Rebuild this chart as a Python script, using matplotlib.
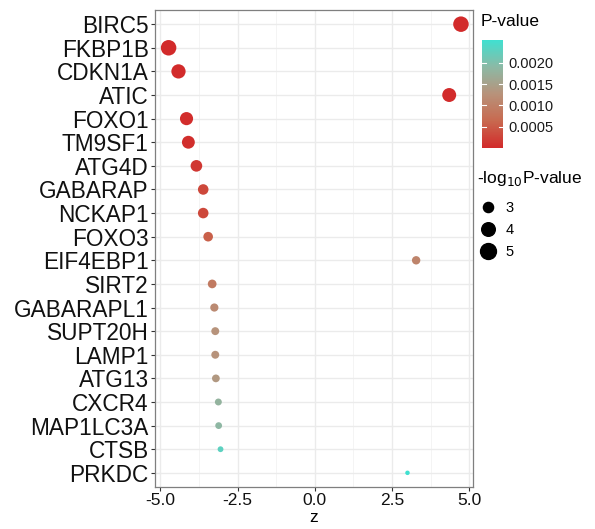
import numpy as np
import matplotlib.pyplot as plt
from matplotlib.colors import LinearSegmentedColormap, Normalize
from matplotlib.lines import Line2D

plt.rcParams['font.family'] = ['Liberation Sans', 'DejaVu Sans']

# data (top to bottom)
genes = ["BIRC5", "FKBP1B", "CDKN1A", "ATIC", "FOXO1", "TM9SF1", "ATG4D",
         "GABARAP", "NCKAP1", "FOXO3", "EIF4EBP1", "SIRT2", "GABARAPL1",
         "SUPT20H", "LAMP1", "ATG13", "CXCR4", "MAP1LC3A", "CTSB", "PRKDC"]
z = [4.73, -4.73, -4.41, 4.35, -4.15, -4.09, -3.83,
     -3.61, -3.61, -3.45, 3.28, -3.32, -3.25,
     -3.22, -3.22, -3.20, -3.12, -3.11, -3.05, 3.00]
pval = [2.2e-6, 2.2e-6, 1.0e-5, 1.4e-5, 3.3e-5, 4.3e-5, 1.3e-4,
        3.0e-4, 3.0e-4, 5.5e-4, 1.05e-3, 9.0e-4, 1.15e-3,
        1.28e-3, 1.28e-3, 1.37e-3, 1.8e-3, 1.87e-3, 2.3e-3, 2.54e-3]
size_breaks = [3, 4, 5]
cbar_ticks = [0.0005, 0.0010, 0.0015, 0.0020]

# red -> turquoise, roughly like ggplot's Lab gradient
cmap = LinearSegmentedColormap.from_list(
    "pv", [(0.0, "#D22A2A"), (0.25, "#C8694F"), (0.5, "#B8927A"),
           (0.75, "#8CB9A5"), (1.0, "#40E0D0")])
norm = Normalize(vmin=0.0, vmax=max(pval))

nlp = -np.log10(np.array(pval))
lo, hi = nlp.min(), nlp.max()


def diam_pt(v):
    # area-style size scale, diameter in points (dpi 100)
    d_px = 4.5 + 11.0 * np.sqrt(np.clip((v - lo) / (hi - lo), 0, 1))
    return d_px * 0.72


fig = plt.figure(figsize=(5.95, 5.29), dpi=100)
ax = fig.add_axes([155 / 595, 1 - 487 / 529, 318 / 595, 477 / 529])

ypos = np.arange(len(genes))[::-1]
order = np.argsort(-nlp)  # draw big ones first
ax.scatter(np.array(z)[order], ypos[order], s=diam_pt(nlp[order]) ** 2,
           c=np.array(pval)[order], cmap=cmap, norm=norm,
           linewidths=0, zorder=3)

ax.set_xlim(-5.17, 5.12)
ax.set_ylim(-0.6, len(genes) - 0.4)
ax.set_yticks(ypos)
ax.set_yticklabels(genes, fontsize=16.3, color="#111111")
ax.set_xticks([-5.0, -2.5, 0.0, 2.5, 5.0])
ax.set_xticklabels(["-5.0", "-2.5", "0.0", "2.5", "5.0"], fontsize=12.5,
                   color="#111111")
ax.set_xticks([-3.75, -1.25, 1.25, 3.75], minor=True)
ax.tick_params(axis="both", which="major", length=3, width=0.8,
               color="#333333", pad=1.5)
ax.tick_params(axis="x", which="minor", length=0)
ax.set_xlabel("z", fontsize=12.5, labelpad=1)
ax.grid(True, which="major", color="#ebebeb", linewidth=1.0, zorder=0)
ax.grid(True, which="minor", axis="x", color="#f2f2f2", linewidth=0.6,
        zorder=0)
ax.set_axisbelow(True)
for sp in ax.spines.values():
    sp.set_color("#7f7f7f")
    sp.set_linewidth(0.9)

# colour bar legend
cax = fig.add_axes([482 / 595, 1 - 148 / 529, 21 / 595, 108 / 529])
cb = fig.colorbar(plt.cm.ScalarMappable(norm=norm, cmap=cmap), cax=cax)
cb.outline.set_visible(False)
cb.set_ticks(cbar_ticks)
cb.set_ticklabels(["%.4f" % t for t in cbar_ticks])
cax.tick_params(length=0, labelsize=10.5, pad=4, labelcolor="#1a1a1a")
for t in cbar_ticks:
    cax.plot([0, 0.18], [t, t], color="white", lw=0.8, transform=cax.get_yaxis_transform())
    cax.plot([0.82, 1], [t, t], color="white", lw=0.8, transform=cax.get_yaxis_transform())
fig.text(481 / 595, 1 - 22 / 529, "P-value", fontsize=12.5, va="center",
         ha="left")

# size legend
fig.text(477 / 595, 1 - 178 / 529, "-log$_{10}$P-value", fontsize=12.5,
         va="center", ha="left")
handles = [Line2D([], [], ls="", marker="o", color="black",
                  markersize=diam_pt(b) + 1.2) for b in size_breaks]
fig.legend(handles, [str(b) for b in size_breaks], loc="upper left",
           bbox_to_anchor=(479 / 595, 1 - 201 / 529), frameon=False,
           fontsize=10.5, labelspacing=0.55, handletextpad=0.6,
           borderaxespad=0, borderpad=0, handlelength=1.2)

fig.savefig("out.png", dpi=100)
